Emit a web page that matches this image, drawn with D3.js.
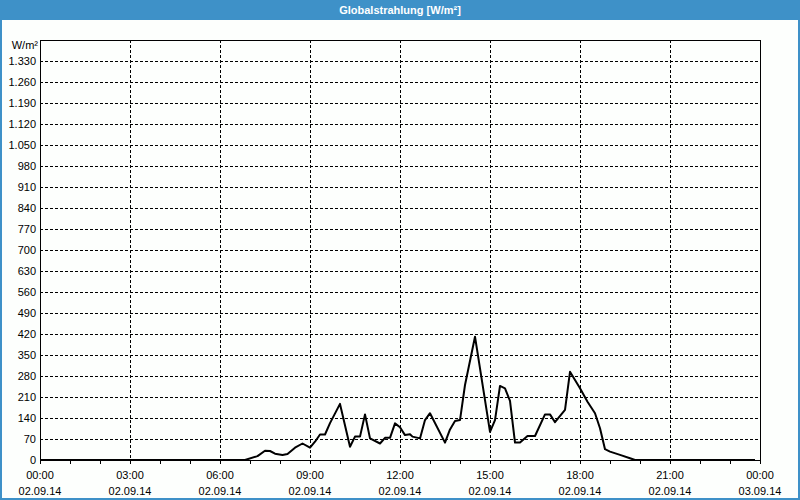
<!DOCTYPE html>
<html><head><meta charset="utf-8">
<script src="https://cdn.jsdelivr.net/npm/d3@7"></script>
<style>
html,body{margin:0;padding:0;background:#fdfffd;}
svg{display:block;font-family:"Liberation Sans",Arial,sans-serif;}
</style></head>
<body>
<svg id="c" width="800" height="500"></svg>
<script>
const title = "Globalstrahlung [W/m²]";
const unitLabel = "W/m²";
const times = ["00:00","06:50","07:15","07:30","07:40","07:50","08:05","08:15","08:30","08:45","09:00","09:10","09:20","09:30","09:40","10:00","10:20","10:30","10:40","10:50","11:00","11:20","11:30","11:40","11:50","12:00","12:10","12:20","12:25","12:40","12:50","13:00","13:30","13:40","13:50","14:00","14:10","14:30","15:00","15:10","15:20","15:30","15:40","15:50","16:00","16:15","16:30","16:50","17:00","17:10","17:30","17:40","18:00","18:15","18:30","18:40","18:50","19:00","19:20","19:40","19:50","23:50"];
const values = [0,0,13,31,30,21,17,20,41,55,41,61,85,85,123,187,44,78,78,152,72,55,74,74,122,109,83,86,78,72,133,156,58,102,130,133,250,411,94,133,247,239,197,58,58,80,80,152,152,126,167,294,239,194,156,106,36,28,17,6,0,0];
const yTicks = [0,70,140,210,280,350,420,490,560,630,700,770,840,910,980,1050,1120,1190,1260,1330];
const xTickHours = [0,3,6,9,12,15,18,21,24];
const xTickTimes = ["00:00","03:00","06:00","09:00","12:00","15:00","18:00","21:00","00:00"];
const xTickDates = ["02.09.14","02.09.14","02.09.14","02.09.14","02.09.14","02.09.14","02.09.14","02.09.14","03.09.14"];

const svg = d3.select("#c");
const W=800,H=500;
const m={l:40,r:40,t:40,b:40};
const blue="#3e91c8";

const toHours = s => { const [h,mm]=s.split(":").map(Number); return h+mm/60; };
const data = times.map((t,i)=>({x:toHours(t), y:values[i]}));

const x = d3.scaleLinear().domain([0,24]).range([m.l, W-m.r]);
const y = d3.scaleLinear().domain([0,1400]).range([H-m.b, m.t]);

svg.append("rect").attr("width",W).attr("height",H).attr("fill","#fdfffd");
// title bar
svg.append("rect").attr("x",0).attr("y",0).attr("width",W).attr("height",20).attr("fill",blue);
svg.append("text").attr("x",400).attr("y",14).attr("text-anchor","middle")
  .attr("fill","#fff").attr("font-weight","bold").attr("font-size",11).text(title);
// outer frame
svg.append("rect").attr("x",1).attr("y",1).attr("width",W-2).attr("height",H-2)
  .attr("fill","none").attr("stroke",blue).attr("stroke-width",2);

const fmt = v => v>=1000 ? d3.format(",")(v).replace(/,/g,".") : String(v);

// horizontal grid
svg.append("g").selectAll("line").data(yTicks.filter(d=>d>0)).join("line")
  .attr("x1",m.l).attr("x2",W-m.r).attr("y1",d=>y(d)+0.5).attr("y2",d=>y(d)+0.5)
  .attr("stroke","#000").attr("stroke-dasharray","3,2").attr("stroke-width",1);
// vertical grid
svg.append("g").selectAll("line").data(xTickHours.filter(d=>d>0&&d<24)).join("line")
  .attr("x1",d=>x(d)+0.5).attr("x2",d=>x(d)+0.5).attr("y1",m.t).attr("y2",H-m.b)
  .attr("stroke","#000").attr("stroke-dasharray","3,2").attr("stroke-width",1);

// y axis
const yAxis = d3.axisLeft(y).tickValues(yTicks).tickSize(0).tickPadding(4).tickFormat(fmt);
const gy = svg.append("g").attr("transform",`translate(${m.l},0)`).call(yAxis);
gy.select(".domain").remove();
gy.selectAll("text").attr("font-size",11).attr("fill","#000").attr("font-family","Liberation Sans, Arial, sans-serif");

svg.append("text").attr("x",38).attr("y",49).attr("text-anchor","end")
  .attr("font-size",11).attr("fill","#000").text(unitLabel);

// x axis minor ticks (hourly)
const xAxis = d3.axisBottom(x).tickValues(d3.range(0,25,1)).tickSize(4).tickFormat("");
const gx = svg.append("g").attr("transform",`translate(0,${H-m.b})`).call(xAxis);
gx.select(".domain").remove();
gx.selectAll("line").attr("stroke","#000");

// x labels
const lab = svg.append("g");
lab.selectAll("text.t").data(xTickHours).join("text").attr("class","t")
  .attr("x",d=>x(d)).attr("y",479).attr("text-anchor","middle").attr("font-size",11)
  .text((d,i)=>xTickTimes[i]);
lab.selectAll("text.d").data(xTickHours).join("text").attr("class","d")
  .attr("x",d=>x(d)).attr("y",495).attr("text-anchor","middle").attr("font-size",11)
  .text((d,i)=>xTickDates[i]);

// plot border
svg.append("rect").attr("x",m.l+0.5).attr("y",m.t+0.5).attr("width",W-m.l-m.r).attr("height",H-m.t-m.b)
  .attr("fill","none").attr("stroke","#000").attr("stroke-width",1);

// data line
svg.append("path").datum(data)
  .attr("d", d3.line().x(d=>x(d.x)).y(d=>y(d.y)))
  .attr("fill","none").attr("stroke","#000").attr("stroke-width",2).attr("stroke-linejoin","round");
</script>
</body></html>
